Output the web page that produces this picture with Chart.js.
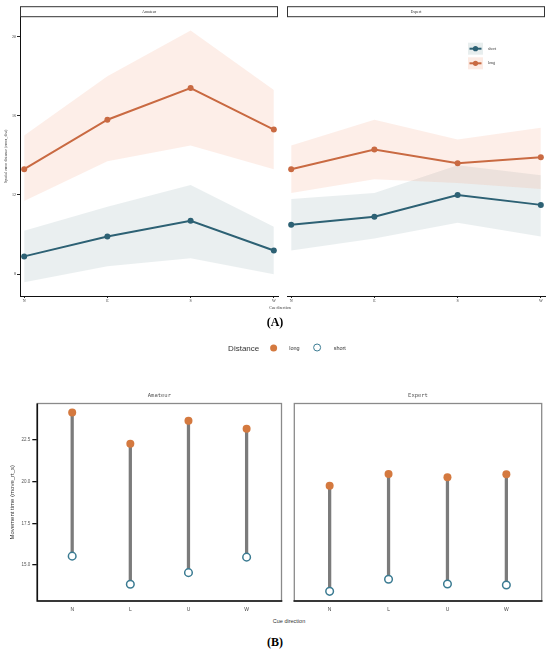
<!DOCTYPE html>
<html>
<head>
<meta charset="utf-8">
<script src="https://cdn.jsdelivr.net/npm/chart.js"></script>
<style>
  body { margin: 0; background: #fff; }
  #page { position: relative; width: 550px; height: 653px; overflow: hidden; background: #fff; }
  canvas { position: absolute; }
  .lbl { position: absolute; transform: translate(-50%, -50%); white-space: nowrap; }
</style>
</head>
<body>
<div id="page">
  <canvas id="aLeft" width="282" height="312" style="left:0;top:0"></canvas>
  <canvas id="aRight" width="267" height="312" style="left:283px;top:0"></canvas>
  <canvas id="bLeft" width="287" height="232" style="left:0;top:385px"></canvas>
  <canvas id="bRight" width="262" height="232" style="left:288px;top:385px"></canvas>

  <div class="lbl" style="left:280px;top:307px;font:4px 'Liberation Serif';color:#333">Cue direction</div>
  <div class="lbl" style="left:275px;top:322px;font:bold 12px 'Liberation Serif';color:#000">(A)</div>

  <div class="lbl" style="left:287px;top:347.5px;font:5.5px 'Liberation Sans';color:#333;display:flex;align-items:center">
    <span style="font-size:8px;margin-right:11px">Distance</span>
    <span style="width:7px;height:7px;border-radius:50%;background:#d4793f;display:inline-block;margin-right:12px"></span>
    <span style="margin-right:13px">long</span>
    <span style="width:6px;height:6px;border-radius:50%;border:1.5px solid #3b7b92;display:inline-block;margin-right:13px"></span>
    <span>short</span>
  </div>
  <div class="lbl" style="left:289px;top:620.5px;font:5.5px 'Liberation Sans';color:#333">Cue direction</div>
  <div class="lbl" style="left:275px;top:642px;font:bold 12px 'Liberation Serif';color:#000">(B)</div>
</div>
<script>
// Cue directions
const cuesA = ["N", "E", "S", "W"];
const cuesB = ["N", "L", "U", "W"];

// (A) spatial error distance: mean and band per cue
const amaLong = [13.3, 15.8, 17.4, 15.3];
const amaLongHi = [15.0, 18.0, 20.3, 17.3];
const amaLongLo = [11.7, 13.7, 14.5, 13.3];
const amaShort = [8.9, 9.9, 10.7, 9.2];
const amaShortHi = [10.2, 11.4, 12.5, 10.4];
const amaShortLo = [7.6, 8.4, 8.8, 8.0];

const expLong = [13.3, 14.3, 13.6, 13.9];
const expLongHi = [14.5, 15.8, 14.8, 15.4];
const expLongLo = [12.1, 12.8, 12.6, 12.3];
const expShort = [10.5, 10.9, 12.0, 11.5];
const expShortHi = [11.8, 12.1, 13.5, 13.0];
const expShortLo = [9.2, 9.8, 10.6, 9.9];

const ticksA = [8, 12, 16, 20];

// (B) movement time per cue
const mtAmaLong = [24.15, 22.28, 23.65, 23.17];
const mtAmaShort = [15.54, 13.85, 14.55, 15.48];
const mtExpLong = [19.76, 20.47, 20.27, 20.45];
const mtExpShort = [13.43, 14.15, 13.87, 13.81];

const ticksB = [15, 17.5, 20, 22.5];

const LONG = "#c96a42";
const SHORT = "#2d6174";

function pts(arr) {
  return arr.map((v, i) => ({ x: i, y: v }));
}

// strip header above the panel (A)
const stripPlugin = {
  id: "strip",
  afterDraw(chart, args, opts) {
    const a = chart.chartArea;
    const ctx = chart.ctx;
    ctx.save();
    ctx.fillStyle = "#fff";
    ctx.strokeStyle = "#333";
    ctx.lineWidth = 1;
    ctx.fillRect(a.left, 6.7, a.right - a.left, 10);
    ctx.strokeRect(a.left + 0.5, 6.7, a.right - a.left - 1, 10);
    ctx.fillStyle = "#333";
    ctx.font = "4px 'Liberation Serif'";
    ctx.textAlign = "center";
    ctx.textBaseline = "middle";
    ctx.fillText(opts.text, (a.left + a.right) / 2, 11.8);
    ctx.restore();
  }
};

// legend inside the Expert panel (A)
const legendA = {
  id: "legendA",
  afterDraw(chart, args, opts) {
    if (!opts.show) return;
    const ctx = chart.ctx;
    const items = [
      { label: "short", color: SHORT, bg: "#e8eeee", y: 48.7 },
      { label: "long", color: LONG, bg: "#fcebe4", y: 63.3 }
    ];
    ctx.save();
    items.forEach(it => {
      ctx.fillStyle = it.bg;
      ctx.fillRect(185, it.y - 6, 15, 12);
      ctx.strokeStyle = it.color;
      ctx.lineWidth = 2;
      ctx.beginPath();
      ctx.moveTo(186.5, it.y);
      ctx.lineTo(198.5, it.y);
      ctx.stroke();
      ctx.fillStyle = it.color;
      ctx.beginPath();
      ctx.arc(192.5, it.y, 2.6, 0, Math.PI * 2);
      ctx.fill();
      ctx.fillStyle = "#333";
      ctx.font = "4px 'Liberation Serif'";
      ctx.textBaseline = "middle";
      ctx.fillText(it.label, 205, it.y);
    });
    ctx.restore();
  }
};

function makeA(id, d, opt) {
  const band = (data, color, fill) => ({
    data: pts(data), fill: fill, backgroundColor: color, borderWidth: 0,
    pointRadius: 0, order: 2, tension: 0
  });
  const line = (data, color) => ({
    data: pts(data), borderColor: color, backgroundColor: color, borderWidth: 2,
    pointRadius: 3, pointBorderWidth: 0, order: 0, tension: 0, fill: false
  });
  new Chart(document.getElementById(id), {
    type: "line",
    data: {
      datasets: [
        line(d.long, LONG),
        line(d.short, SHORT),
        band(d.longHi, "rgba(242,160,130,0.18)", "+1"),
        band(d.longLo, "rgba(0,0,0,0)", false),
        band(d.shortHi, "rgba(60,110,120,0.11)", "+1"),
        band(d.shortLo, "rgba(0,0,0,0)", false)
      ]
    },
    options: {
      responsive: false,
      animation: false,
      layout: { padding: opt.padding },
      plugins: {
        legend: { display: false },
        tooltip: { enabled: false },
        strip: { text: opt.title },
        legendA: { show: opt.legend }
      },
      scales: {
        x: {
          type: "linear", min: -0.05, max: 3.05,
          afterBuildTicks: s => { s.ticks = [0, 1, 2, 3].map(v => ({ value: v })); },
          afterFit: a => { a.height = 16; },
          ticks: {
            callback: v => cuesA[v], color: "#333", padding: 1, maxRotation: 0,
            font: { size: 4, family: "Liberation Serif" }
          },
          grid: { drawOnChartArea: false, tickLength: 2, color: "#222" },
          border: { color: "#111", width: 1 }
        },
        y: {
          display: opt.showY,
          min: 6.9, max: 21,
          afterBuildTicks: s => { s.ticks = ticksA.map(v => ({ value: v })); },
          afterFit: a => { if (opt.showY) a.width = 20; },
          ticks: { color: "#333", padding: 1, font: { size: 4, family: "Liberation Serif" } },
          grid: { drawOnChartArea: false, tickLength: 3, color: "#222" },
          border: { color: "#111", width: 1 },
          title: {
            display: true, text: "Spatial error distance (error_dist)", color: "#333",
            padding: { top: 4, bottom: 0 }, font: { size: 4, family: "Liberation Serif" }
          }
        }
      }
    },
    plugins: [stripPlugin, legendA]
  });
}

makeA("aLeft", {
  long: amaLong, longHi: amaLongHi, longLo: amaLongLo,
  short: amaShort, shortHi: amaShortHi, shortLo: amaShortLo
}, { title: "Amateur", showY: true, legend: false, padding: { top: 16.7, right: 3, left: 0, bottom: 0 } });

makeA("aRight", {
  long: expLong, longHi: expLongHi, longLo: expLongLo,
  short: expShort, shortHi: expShortHi, shortLo: expShortLo
}, { title: "Expert", showY: false, legend: true, padding: { top: 16.7, right: 5, left: 3, bottom: 0 } });

// panel frame and facet title (B)
const frameB = {
  id: "frameB",
  beforeDatasetsDraw(chart, args, opts) {
    const a = chart.chartArea;
    const ctx = chart.ctx;
    ctx.save();
    ctx.strokeStyle = "#8a8a8a";
    ctx.lineWidth = 1.3;
    ctx.strokeRect(a.left, a.top, a.right - a.left, a.bottom - a.top);
    ctx.strokeStyle = "#111";
    ctx.lineWidth = 1.6;
    ctx.beginPath();
    if (opts.leftAxis) {
      ctx.moveTo(a.left, a.top);
      ctx.lineTo(a.left, a.bottom);
    }
    ctx.moveTo(a.left - 0.8, a.bottom);
    ctx.lineTo(a.right + 0.8, a.bottom);
    ctx.stroke();
    ctx.fillStyle = "#555";
    ctx.font = "5.5px 'DejaVu Sans Mono'";
    ctx.textAlign = "center";
    ctx.textBaseline = "middle";
    ctx.fillText(opts.title, (a.left + a.right) / 2, 10.7);
    ctx.restore();
  }
};

function makeB(id, longV, shortV, opt) {
  new Chart(document.getElementById(id), {
    type: "bar",
    data: {
      datasets: [
        {
          type: "scatter", data: pts(longV), backgroundColor: "#d4793f",
          borderWidth: 0, pointRadius: 4, order: 0
        },
        {
          type: "scatter", data: pts(shortV), backgroundColor: "#fff",
          borderColor: "#3b7b92", borderWidth: 1.5, pointRadius: 3.8, order: 0
        },
        {
          type: "bar", data: shortV.map((v, i) => ({ x: i, y: [v, longV[i]] })),
          backgroundColor: "#7b7b7b", barThickness: 2.6, order: 2
        }
      ]
    },
    options: {
      responsive: false,
      animation: false,
      layout: { padding: opt.padding },
      plugins: {
        legend: { display: false },
        tooltip: { enabled: false },
        frameB: { title: opt.title, leftAxis: opt.showY }
      },
      scales: {
        x: {
          type: "linear", min: -0.6, max: 3.6, offset: false,
          afterBuildTicks: s => { s.ticks = [0, 1, 2, 3].map(v => ({ value: v })); },
          afterFit: a => { a.height = 16; },
          ticks: {
            callback: v => cuesB[v], color: "#444", padding: 6, maxRotation: 0,
            font: { size: 5, family: "Liberation Sans" }
          },
          grid: { display: true, drawOnChartArea: false, drawTicks: false, offset: false },
          border: { display: false }
        },
        y: {
          display: opt.showY,
          min: 12.85, max: 24.69,
          afterBuildTicks: s => { s.ticks = ticksB.map(v => ({ value: v })); },
          afterFit: a => { if (opt.showY) a.width = 37.3; },
          ticks: {
            callback: v => v.toFixed(1), color: "#555", padding: 2,
            font: { size: 4.5, family: "Liberation Sans" }
          },
          grid: { drawOnChartArea: false, tickLength: 5, color: "#111", lineWidth: 1.3 },
          border: { display: false },
          title: {
            display: true, text: "Movement time (move_rt_s)", color: "#333",
            padding: { top: 8.4, bottom: 0 }, font: { size: 6, family: "Liberation Sans" }
          }
        }
      }
    },
    plugins: [frameB]
  });
}

makeB("bLeft", mtAmaLong, mtAmaShort,
  { title: "Amateur", showY: true, padding: { top: 18.5, right: 2.7, left: 0, bottom: 0 } });
makeB("bRight", mtExpLong, mtExpShort,
  { title: "Expert", showY: false, padding: { top: 18.5, right: 8.3, left: 6.3, bottom: 0 } });
</script>
</body>
</html>
